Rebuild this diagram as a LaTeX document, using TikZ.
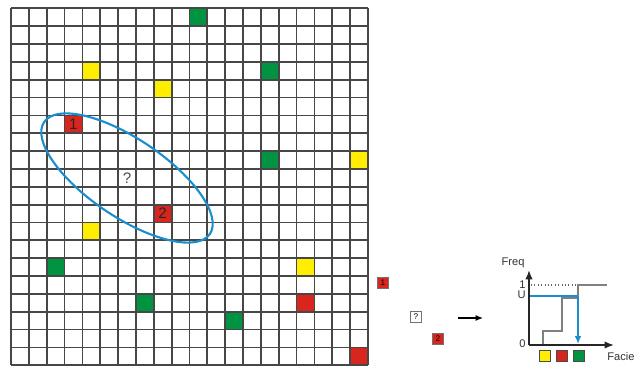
\documentclass[tikz,border=0pt]{standalone}
\usepackage{fontspec}
\setmainfont{Liberation Sans}
\usepackage{tikz}
\usetikzlibrary{arrows.meta}

\definecolor{facieyellow}{RGB}{255,238,0}
\definecolor{faciered}{RGB}{216,38,30}
\definecolor{faciegreen}{RGB}{0,148,66}
\definecolor{searchblue}{RGB}{26,142,206}

\newcommand{\cellsize}{17.85}
% coloured cell at column #1, row #2 (counted from the top left)
\newcommand{\faciecell}[3]{\fill[#3] ({11+#1*\cellsize},{8.3+#2*\cellsize}) rectangle ++(\cellsize,\cellsize);}

\tikzset{
  gridline/.style={line width=1.5pt, black!72},
  cellnum/.style={font=\fontsize{13}{13}\selectfont, text=black!85, inner sep=0pt},
  minibox/.style={draw=black!55, line width=0.5pt, minimum size=0.33cm, inner sep=0pt, font=\fontsize{7}{7}\selectfont},
  axisline/.style={line width=1.2pt, black!85, -{Latex[length=2.8mm, width=2.2mm]}},
  cdfline/.style={line width=1.1pt, black!50},
  smalllabel/.style={font=\fontsize{9.5}{10}\selectfont, text=black!80, inner sep=1pt}
}

\begin{document}
\begin{tikzpicture}[x=0.03cm, y=-0.03cm]
\useasboundingbox (0,0) rectangle (635,366);

% coloured cells
\faciecell{10}{0}{faciegreen}
\faciecell{4}{3}{facieyellow}
\faciecell{14}{3}{faciegreen}
\faciecell{8}{4}{facieyellow}
\faciecell{3}{6}{faciered}
\faciecell{14}{8}{faciegreen}
\faciecell{19}{8}{facieyellow}
\faciecell{8}{11}{faciered}
\faciecell{4}{12}{facieyellow}
\faciecell{2}{14}{faciegreen}
\faciecell{16}{14}{facieyellow}
\faciecell{7}{16}{faciegreen}
\faciecell{16}{16}{faciered}
\faciecell{12}{17}{faciegreen}
\faciecell{19}{19}{faciered}

% grid
\foreach \i in {0,...,20} {
  \draw[gridline] ({11+\i*\cellsize},8.3) -- ({11+\i*\cellsize},{8.3+20*\cellsize});
  \draw[gridline] (11,{8.3+\i*\cellsize}) -- ({11+20*\cellsize},{8.3+\i*\cellsize});
}

\node[cellnum] (hard1) at ({11+3.5*\cellsize},{8.3+6.5*\cellsize}) {1};
\node[cellnum] (hard2) at ({11+8.5*\cellsize},{8.3+11.5*\cellsize}) {2};
\node[cellnum, text=black!70] (unknown) at ({11+6.5*\cellsize},{8.3+9.5*\cellsize}) {?};

% search neighbourhood
\draw[searchblue, line width=1.8pt, rotate around={-34:(127,178)}] (127,178) ellipse [x radius=100, y radius=39];

% samples
\node[minibox, fill=faciered] (sample1) at (383,283) {1};
\node[minibox, fill=white] (target) at (416,317) {?};
\node[minibox, fill=faciered] (sample2) at (438,339) {2};
\coordinate (arrowstart) at (458,318);
\coordinate (arrowend) at (483,318);
\draw[line width=1pt, -{Latex[length=2.2mm, width=1.8mm]}] (arrowstart) -- (arrowend);

% cumulative distribution
\coordinate (origin) at (529,345);
\draw[black!60, line width=0.9pt, dotted] (531,285) -- (578,285);
\draw[cdfline] (543,345) -- (543,331) -- (562,331) -- (562,298) -- (578,298) -- (578,285) -- (607,285);
\draw[searchblue, line width=1.3pt] (529,296) -- (578,296);
\draw[searchblue, line width=1.3pt, -{Latex[length=2.4mm, width=2mm]}] (578,296) -- (578,344);
\draw[axisline] (origin) -- (529,270);
\draw[axisline] (origin) -- (614,345);

\node[smalllabel] (freq) at (513,263) {Freq};
\node[smalllabel, anchor=east] (one) at (527,285) {1};
\node[smalllabel, anchor=east] (ulabel) at (527,295) {U};
\node[smalllabel, anchor=east] (zero) at (527,344) {0};
\node[smalllabel] (facie) at (621,357) {Facie};

\node[draw=black!70, line width=0.6pt, fill=facieyellow, minimum size=0.33cm, inner sep=0pt] (legy) at (545,356) {};
\node[draw=black!70, line width=0.6pt, fill=faciered, minimum size=0.33cm, inner sep=0pt] (legr) at (561.5,356) {};
\node[draw=black!70, line width=0.6pt, fill=faciegreen, minimum size=0.33cm, inner sep=0pt] (legg) at (578.5,356) {};
\end{tikzpicture}
\end{document}
